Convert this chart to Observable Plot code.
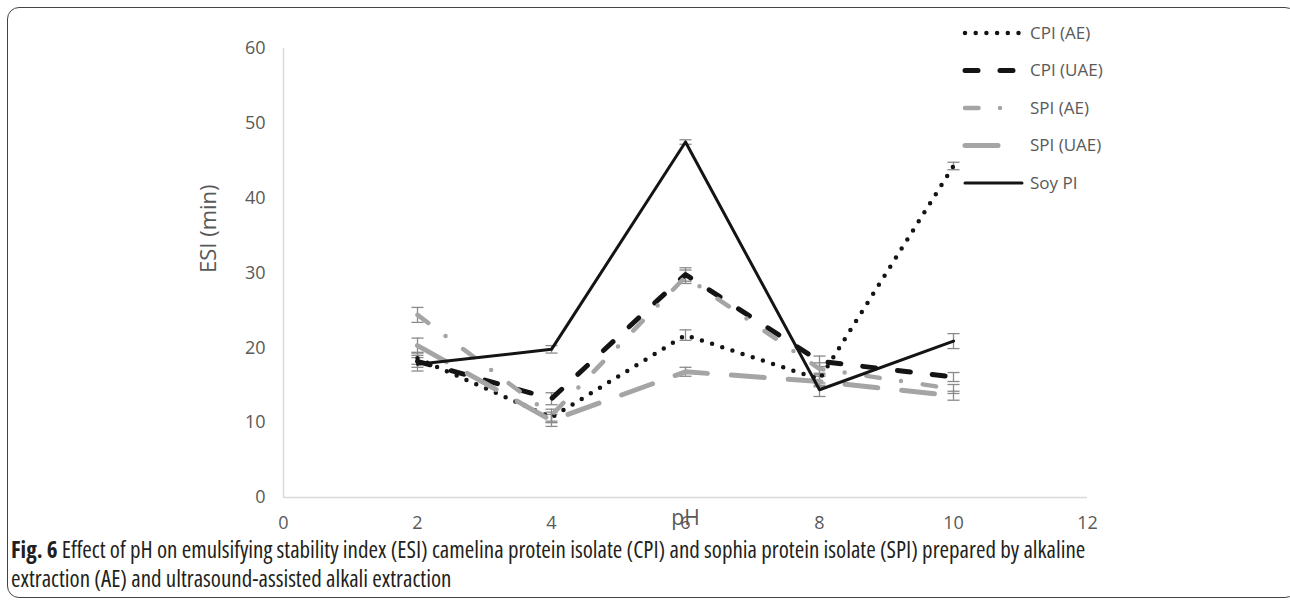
<!DOCTYPE html>
<html>
<head>
<meta charset="utf-8">
<script src="https://cdn.jsdelivr.net/npm/d3@7"></script>
<script src="https://cdn.jsdelivr.net/npm/@observablehq/plot@0.6"></script>
<style>
  html, body { margin: 0; padding: 0; background: #fff; }
  #wrap { position: relative; width: 1290px; height: 605px; overflow: hidden; font-family: "Open Sans", sans-serif; }
  #frame { position: absolute; left: 7px; top: 7px; width: 1290px; height: 591px; border: 1.5px solid #444; border-radius: 12px; box-sizing: border-box; }
  #chart { position: absolute; left: 0; top: 0; }
  #legend { position: absolute; left: 950px; top: 15px; }
  #caption { position: absolute; left: 11px; top: 535px; width: 1270px; font-family: "Open Sans", sans-serif; font-stretch: semi-condensed; font-size: 23px; line-height: 29px; color: #231f20; white-space: nowrap; }
  #caption b { font-weight: bold; }
</style>
</head>
<body>
<div id="wrap">
  <div id="frame"></div>
  <div id="chart"></div>
  <div id="legend"></div>
  <div id="caption"><b>Fig. 6</b> Effect of pH on emulsifying stability index (ESI) camelina protein isolate (CPI) and sophia protein isolate (SPI) prepared by alkaline<br>extraction (AE) and ultrasound-assisted alkali extraction</div>
</div>
<script>
// ---- data ----
const phValues = [2, 4, 6, 8, 10];
const seriesNames = ["CPI (AE)", "CPI (UAE)", "SPI (AE)", "SPI (UAE)", "Soy PI"];
const cpiAE = [18.6, 10.7, 21.7, 15.8, 44.3];
const cpiAEErr = [0.8, 0.7, 0.7, 0.8, 0.5];
const cpiUAE = [18.2, 13.2, 29.8, 18.2, 16.1];
const cpiUAEErr = [0.8, 0.8, 0.9, 0.7, 0.6];
const spiAE = [24.4, 11.0, 29.5, 17.2, 14.5];
const spiAEErr = [1.0, 0.8, 0.9, 0.8, 0.6];
const spiUAE = [20.3, 10.3, 16.8, 15.5, 13.6];
const spiUAEErr = [1.0, 0.8, 0.6, 0.7, 0.6];
const soyPI = [17.8, 19.8, 47.5, 14.4, 20.9];
const soyPIErr = [0.9, 0.5, 0.3, 0.9, 1.0];
const xTicks = [0, 2, 4, 6, 8, 10, 12];
const yTicks = [0, 10, 20, 30, 40, 50, 60];

// ---- styles ----
const BLACK = "#141414", GRAY = "#a5a5a5", ERR = "#8a8a8a";
const styles = {
  "CPI (AE)":  {stroke: BLACK, strokeWidth: 4.5, strokeDasharray: "0 10.7"},
  "CPI (UAE)": {stroke: BLACK, strokeWidth: 5, strokeDasharray: "13 22"},
  "SPI (AE)":  {stroke: GRAY, strokeWidth: 4.5, strokeDasharray: "13.5 21.5 0 22"},
  "SPI (UAE)": {stroke: GRAY, strokeWidth: 5, strokeDasharray: "33 24"},
  "Soy PI":    {stroke: BLACK, strokeWidth: 3, strokeDasharray: null}
};
const valueArrays = [cpiAE, cpiUAE, spiAE, spiUAE, soyPI];
const errArrays = [cpiAEErr, cpiUAEErr, spiAEErr, spiUAEErr, soyPIErr];

const rows = [];
seriesNames.forEach((name, si) => {
  phValues.forEach((ph, i) => {
    rows.push({series: name, ph, esi: valueArrays[si][i], err: errArrays[si][i]});
  });
});

const capSymbol = {
  draw(context, size) {
    const w = Math.sqrt(size);
    context.moveTo(-w, 0);
    context.lineTo(w, 0);
  }
};

const lineMarks = seriesNames.map(name => Plot.line(rows.filter(d => d.series === name), {
  x: "ph", y: "esi",
  stroke: styles[name].stroke,
  strokeWidth: styles[name].strokeWidth,
  strokeDasharray: styles[name].strokeDasharray,
  strokeLinecap: "round",
  strokeLinejoin: "round"
}));

const chart = Plot.plot({
  width: 1290,
  height: 540,
  marginLeft: 283,
  marginRight: 203,
  marginTop: 48,
  marginBottom: 43,
  style: {fontFamily: "Open Sans, sans-serif", fontSize: "18px", color: "#595959", background: "transparent"},
  x: {domain: [0, 12], ticks: xTicks, tickSize: 0, tickPadding: 19, label: null},
  y: {domain: [0, 60], ticks: yTicks, tickSize: 0, tickPadding: 18, label: null},
  marks: [
    Plot.ruleY([0], {stroke: "#d9d9d9", strokeWidth: 1.5}),
    Plot.ruleX([0], {stroke: "#d9d9d9", strokeWidth: 1.5}),
    Plot.ruleX(rows, {x: "ph", y1: d => d.esi - d.err, y2: d => d.esi + d.err, stroke: ERR, strokeWidth: 1.3}),
    Plot.dot(rows, {x: "ph", y: d => d.esi - d.err, symbol: capSymbol, r: 3.4, stroke: ERR, strokeWidth: 1.3, fill: "none"}),
    Plot.dot(rows, {x: "ph", y: d => d.esi + d.err, symbol: capSymbol, r: 3.4, stroke: ERR, strokeWidth: 1.3, fill: "none"}),
    ...lineMarks,
    Plot.text(["pH"], {frameAnchor: "bottom", dy: 27, fontSize: 21, fill: "#595959"}),
    Plot.text(["ESI (min)"], {frameAnchor: "left", rotate: -90, dx: -75, fontSize: 22, fill: "#595959"})
  ]
});
document.getElementById("chart").appendChild(chart);

// ---- legend ----
const lg = d3.select("#legend").append("svg").attr("width", 200).attr("height", 190);
seriesNames.forEach((name, i) => {
  const y = 18 + i * 37.5;
  const s = styles[name];
  lg.append("line")
    .attr("x1", 15).attr("x2", 72).attr("y1", y).attr("y2", y)
    .attr("stroke", s.stroke).attr("stroke-width", s.strokeWidth)
    .attr("stroke-dasharray", s.strokeDasharray)
    .attr("stroke-linecap", "round");
  lg.append("text")
    .attr("x", 80).attr("y", y).attr("dy", "0.35em")
    .attr("font-family", "Open Sans, sans-serif").attr("font-size", 17)
    .attr("fill", "#595959").text(name);
});
</script>
</body>
</html>
